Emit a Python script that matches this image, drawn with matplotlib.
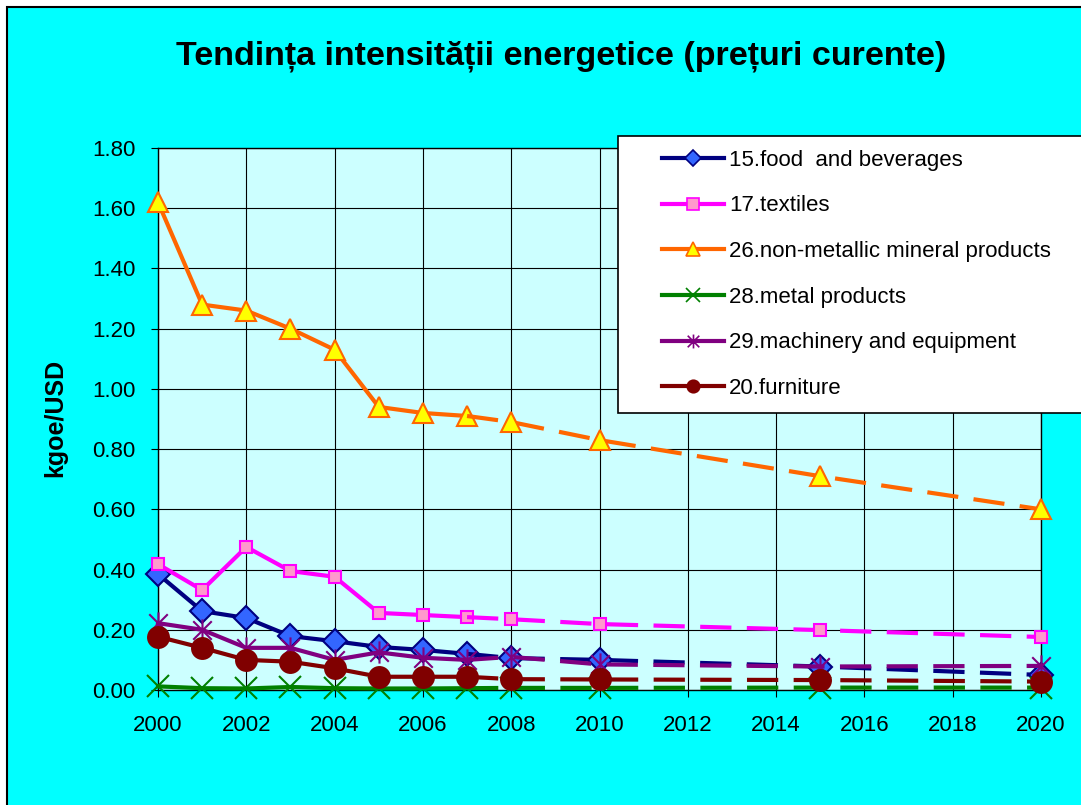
import matplotlib.pyplot as plt
from matplotlib.patches import Rectangle
from matplotlib.lines import Line2D
from matplotlib.path import Path

plt.rcParams['font.family'] = ['Liberation Sans', 'DejaVu Sans']

# actual years (solid) and forecast years (dashed, markers)
years_hist = [2000, 2001, 2002, 2003, 2004, 2005, 2006, 2007]
years_fc = [2008, 2010, 2015, 2020]

labels = ["15.food  and beverages", "17.textiles", "26.non-metallic mineral products",
          "28.metal products", "29.machinery and equipment", "20.furniture"]

food_hist = [0.385, 0.262, 0.239, 0.179, 0.162, 0.143, 0.133, 0.120]
food_fc = [0.106, 0.100, 0.078, 0.050]
textiles_hist = [0.418, 0.332, 0.475, 0.395, 0.376, 0.256, 0.249, 0.242]
textiles_fc = [0.235, 0.219, 0.199, 0.176]
mineral_hist = [1.62, 1.28, 1.26, 1.20, 1.13, 0.94, 0.92, 0.91]
mineral_fc = [0.89, 0.83, 0.71, 0.60]
metal_hist = [0.012, 0.006, 0.005, 0.010, 0.006, 0.005, 0.005, 0.006]
metal_fc = [0.007, 0.007, 0.008, 0.008]
machinery_hist = [0.222, 0.200, 0.140, 0.140, 0.100, 0.125, 0.107, 0.100]
machinery_fc = [0.110, 0.085, 0.078, 0.080]
furniture_hist = [0.177, 0.140, 0.100, 0.094, 0.072, 0.044, 0.044, 0.044]
furniture_fc = [0.036, 0.035, 0.033, 0.028]

hist = [food_hist, textiles_hist, mineral_hist, metal_hist, machinery_hist, furniture_hist]
fc = [food_fc, textiles_fc, mineral_fc, metal_fc, machinery_fc, furniture_fc]

# excel style star: an X with a vertical bar
star = Path([(-1, -1), (1, 1), (-1, 1), (1, -1), (0, -1.2), (0, 1.2)],
            [Path.MOVETO, Path.LINETO, Path.MOVETO, Path.LINETO, Path.MOVETO, Path.LINETO])

# line colour, marker, face, edge, size, legend size
styles = [
    ('#000080', 'D', '#3366FF', '#000080', 12, 8),
    ('#FF00FF', 's', '#FF99CC', '#FF00FF', 9, 8),
    ('#FF6600', '^', '#FFFF00', '#FF6600', 15, 10),
    ('#008000', 'x', '#008000', '#008000', 16, 10),
    ('#800080', star, '#800080', '#800080', 16, 10),
    ('#800000', 'o', '#800000', '#800000', 15, 9),
]

fig = plt.figure(figsize=(10.81, 8.05), dpi=100)
fig.patch.set_facecolor('white')
fig.add_artist(Rectangle((7 / 1081, -0.01), 1.02, 1 - 7 / 805 + 0.01, transform=fig.transFigure,
                         facecolor='#00FFFF', edgecolor='black', lw=1.5, zorder=-10))

ax = fig.add_axes([158 / 1081, 1 - 690 / 805, (1041 - 158) / 1081, (690 - 148) / 805])
ax.set_facecolor('#CCFFFF')

for h, f, (c, m, fcol, ec, ms, lms) in zip(hist, fc, styles):
    mk = dict(marker=m, markersize=ms, markerfacecolor=fcol, markeredgecolor=ec, markeredgewidth=1.5)
    ax.plot(years_hist, h, color=c, lw=3, solid_joinstyle='round', clip_on=False, zorder=3, **mk)
    ax.plot([years_hist[-1]] + years_fc, [h[-1]] + f, color=c, lw=3, linestyle=(0, (7.5, 3.7)),
            markevery=[1, 2, 3, 4], clip_on=False, zorder=3, **mk)

ax.set_xlim(2000, 2020)
ax.set_ylim(0, 1.8)
ax.set_xticks(range(2000, 2021, 2))
ax.set_yticks([i * 0.2 for i in range(10)])
ax.set_yticklabels(['%.2f' % (i * 0.2) for i in range(10)])
ax.grid(True, color='black', lw=0.8)
ax.set_axisbelow(True)
ax.tick_params(axis='both', labelsize=16, length=5, color='black')
ax.tick_params(axis='x', pad=13)
ax.tick_params(axis='y', pad=11)
for s in ax.spines.values():
    s.set_color('black')
    s.set_linewidth(1)

fig.text(0.519, 1 - 56 / 805, 'Tendința intensității energetice (prețuri curente)',
         ha='center', va='center', fontsize=24.5, fontweight='bold')
fig.text(55 / 1081, 1 - 418 / 805, 'kgoe/USD', rotation=90, ha='center', va='center',
         fontsize=18, fontweight='bold')

# legend box
fig.add_artist(Rectangle((618 / 1081, 1 - 413 / 805), 0.5, (413 - 136) / 805, transform=fig.transFigure,
                         facecolor='white', edgecolor='black', lw=1.2, zorder=5))
handles = []
for (c, m, fcol, ec, ms, lms) in styles:
    handles.append(Line2D([], [], color=c, lw=3, marker=m, markersize=lms,
                          markerfacecolor=fcol, markeredgecolor=ec, markeredgewidth=1.2))
leg = fig.legend(handles, labels, loc='upper left', bbox_to_anchor=(644 / 1081, 1 - 132 / 805),
                 frameon=False, fontsize=16, handlelength=2.8, handletextpad=0.22,
                 labelspacing=1.11, borderpad=0.3)
leg.set_zorder(6)

fig.savefig('out.png', dpi=100)
